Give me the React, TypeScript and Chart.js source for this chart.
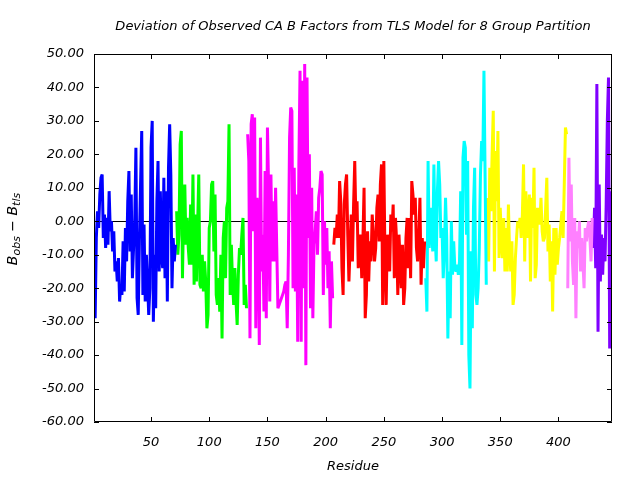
import React, { useEffect, useRef } from "react";
import { Chart, registerables } from "chart.js";

Chart.register(...registerables);

// ---- Data ----
const titleText = "Deviation of Observed CA B Factors from TLS Model for 8 Group Partition";
const xAxisLabel = "Residue";
const xTickValues = [50, 100, 150, 200, 250, 300, 350, 400];
const yTickValues = [-60, -50, -40, -30, -20, -10, 0, 10, 20, 30, 40, 50];
const xMin = 1;
const xMax = 446;

const groupStarts = [1, 72, 133, 207, 286, 339, 408, 430];
const groupColors = ["#0000ff", "#00ff00", "#ff00ff", "#ff0000", "#00ffff", "#ffff00", "#ff80ff", "#8000ff"];

const group1 = [-15, -29, -5, 3, -2, 8, 13, 14, -5, 2, -8, 1, -7, 9, -3, 0, -9, -3, -15, -12, -18, -11, -24, -19, -22, -6, -21, -2, -12, 6, 15, -9, 8, -17, -8, 0, 22, -23, -28, -6, 11, 27, -22, -1, -24, -10, -18, -28, -20, 22, 30, -30, -10, -26, 6, 18, -15, 9, -10, -14, 13, -17, 9, -24, 16, 29, 14, -20, -5, -12, -7];
const group2 = [3, -10, -4, 23, 27, -17, 4, 11, -7, 1, -8, -13, 5, -13, 14, -19, 2, -18, -2, 14, -19, -20, -10, -21, -12, -18, -32, -28, -2, 0, 11, 12, -9, 8, -22, -25, -17, -27, -10, -35, -5, 0, -17, 4, 6, 29, -22, -7, -18, -25, -14, -24, -31, -16, -8, -10, -4, 1, -25, -19, -26];
const group3 = [26, 18, -35, 29, 32, -3, 31, -32, 7, 1, -37, 25, -15, -4, -27, 15, -29, 28, 10, -24, 14, -12, 6, -12, 10, -8, -26, -25, -24, -23, -22, -21, -19, -18, -32, -10, 25, 34, 33, -20, 16, -21, 8, -36, 17, 45, -36, 42, -20, 47, -43, 43, -5, 20, -26, 10, -29, -7, -3, 3, -10, 7, 10, 15, 14, -22, 0, -13, -2, -20, -9, -32, -12, -23];
const group4 = [-7, -2, -5, 2, -5, 12, 6, -14, -22, 5, 11, 14, -4, -18, -8, 2, -12, 5, 18, 0, 6, -14, -10, -4, -17, -6, 10, -29, -22, -3, -18, -6, -12, 2, -4, -12, -8, 4, 8, -6, 11, 17, -25, 18, -12, -25, -4, -9, -15, 2, -3, 5, -17, 1, -6, -22, -4, -12, -20, -7, -25, -20, -5, 1, -14, 1, -17, 12, 8, 2, 7, -8, -12, -5, 7, -19, -5, -14, -6];
const group5 = [-17, -27, 18, -8, 4, -2, -9, 17, -4, -12, 9, 18, 11, -5, -2, -17, -9, 7, -5, -35, -15, -29, 0, -16, -6, -14, -15, -13, -16, -12, 9, -37, 19, 24, 22, -4, 18, -40, -50, -9, -32, 4, 16, -22, -25, -20, -8, 14, 24, 18, 45, 13, -19];
const group6 = [7, -12, 16, 3, 20, 33, -15, 21, 6, 27, -11, 4, -6, -11, 1, -15, -2, -15, 5, -9, -15, -6, -25, -22, -11, -5, 0, -2, 1, -5, 2, 17, -12, 9, -5, 1, 8, -18, 7, -2, 16, -17, -13, 4, 2, -1, 7, -3, -6, -5, 4, 13, -9, -1, -18, -6, -27, -2, -16, -2, -13, -8, -5, -1, 3, -5, 11, 28, 26];
const group7 = [-20, 19, -6, 11, -12, -19, 1, -29, -3, -8, 0, -15, -5, -12, -20, -2, -6, -2, 0, -5, -12, 1];
const group8 = [-8, 4, -14, 41, -33, 11, -18, -4, -16, -5, -12, 5, 30, 43, -38, 9, -17];

const groupValues = [group1, group2, group3, group4, group5, group6, group7, group8];

const FONT = "'DejaVu Sans', sans-serif";

const framePlugin = {
  id: "gnuplotFrame",
  beforeDatasetsDraw(chart: any) {
    const { ctx, chartArea, scales } = chart;
    const y0 = Math.round(scales.y.getPixelForValue(0)) + 0.5;
    ctx.save();
    ctx.strokeStyle = "#000";
    ctx.lineWidth = 1;
    ctx.beginPath();
    ctx.moveTo(chartArea.left, y0);
    ctx.lineTo(chartArea.right, y0);
    ctx.stroke();
    ctx.restore();
  },
  afterDatasetsDraw(chart: any) {
    const { ctx, chartArea, scales } = chart;
    const { left, right, top, bottom } = chartArea;
    const t = 5;
    ctx.save();
    ctx.strokeStyle = "#000";
    ctx.lineWidth = 1;
    ctx.beginPath();
    ctx.rect(left + 0.5, top + 0.5, right - left - 1, bottom - top - 1);
    ctx.stroke();
    ctx.beginPath();
    for (const v of yTickValues) {
      const py = Math.round(scales.y.getPixelForValue(v)) + 0.5;
      ctx.moveTo(left, py);
      ctx.lineTo(left + t, py);
      ctx.moveTo(right, py);
      ctx.lineTo(right - t, py);
    }
    for (const v of xTickValues) {
      const px = Math.round(scales.x.getPixelForValue(v)) + 0.5;
      ctx.moveTo(px, bottom);
      ctx.lineTo(px, bottom - t);
      ctx.moveTo(px, top);
      ctx.lineTo(px, top + t);
    }
    ctx.stroke();

    // Title
    const cx = (left + right) / 2;
    ctx.fillStyle = "#000";
    ctx.textAlign = "center";
    ctx.textBaseline = "middle";
    ctx.font = `italic 13px ${FONT}`;
    ctx.fillText(titleText, cx, 27);
    // X axis label
    ctx.fillText(xAxisLabel, cx, 467);

    // Y axis label with subscripts, rotated
    const mainFont = `italic 14px ${FONT}`;
    const subFont = `italic 11px ${FONT}`;
    const parts = [
      { text: "B", font: mainFont, dy: 0 },
      { text: "obs", font: subFont, dy: 3 },
      { text: " \u2212 ", font: mainFont, dy: 0 },
      { text: "B", font: mainFont, dy: 0 },
      { text: "tls", font: subFont, dy: 3 },
    ];
    let total = 0;
    for (const p of parts) {
      ctx.font = p.font;
      total += ctx.measureText(p.text).width;
    }
    ctx.translate(17, 229);
    ctx.rotate(-Math.PI / 2);
    ctx.textAlign = "left";
    ctx.textBaseline = "alphabetic";
    let xx = -total / 2;
    for (const p of parts) {
      ctx.font = p.font;
      ctx.fillText(p.text, xx, p.dy);
      xx += ctx.measureText(p.text).width;
    }
    ctx.restore();
  },
};

export default function App() {
  const canvasRef = useRef<HTMLCanvasElement | null>(null);

  useEffect(() => {
    if (!canvasRef.current) return;
    const datasets = groupValues.map((vals, gi) => ({
      data: vals.map((v, i) => ({ x: groupStarts[gi] + i, y: v })),
      borderColor: groupColors[gi],
      backgroundColor: groupColors[gi],
      borderWidth: 3,
      pointRadius: 0,
      tension: 0,
      fill: false,
      borderJoinStyle: "bevel" as const,
      borderCapStyle: "butt" as const,
    }));
    const chart = new Chart(canvasRef.current, {
      type: "line",
      data: { datasets },
      options: {
        responsive: false,
        animation: false,
        events: [],
        layout: { padding: { top: 54, right: 28, bottom: 0, left: 0 } },
        plugins: { legend: { display: false }, tooltip: { enabled: false }, title: { display: false } },
        scales: {
          x: {
            type: "linear",
            min: xMin,
            max: xMax,
            grid: { display: false, drawTicks: false },
            border: { display: false },
            afterBuildTicks: (scale: any) => {
              scale.ticks = xTickValues.map((v) => ({ value: v }));
            },
            afterFit: (scale: any) => {
              scale.height = 58;
            },
            ticks: {
              padding: 13,
              maxRotation: 0,
              autoSkip: false,
              color: "#000",
              font: { family: FONT, size: 13, style: "italic" },
              callback: (v: any) => String(v),
            },
          },
          y: {
            type: "linear",
            min: -60,
            max: 50,
            grid: { display: false, drawTicks: false },
            border: { display: false },
            afterBuildTicks: (scale: any) => {
              scale.ticks = yTickValues.map((v) => ({ value: v }));
            },
            afterFit: (scale: any) => {
              scale.width = 94;
            },
            ticks: {
              padding: 10,
              autoSkip: false,
              color: "#000",
              font: { family: FONT, size: 13, style: "italic" },
              callback: (v: any) => Number(v).toFixed(2),
            },
          },
        },
      },
      plugins: [framePlugin],
    });
    return () => chart.destroy();
  }, []);

  return (
    <div style={{ position: "fixed", left: 0, top: 0, width: 640, height: 480, background: "#fff" }}>
      <canvas ref={canvasRef} width={640} height={480} style={{ display: "block" }} />
    </div>
  );
}
